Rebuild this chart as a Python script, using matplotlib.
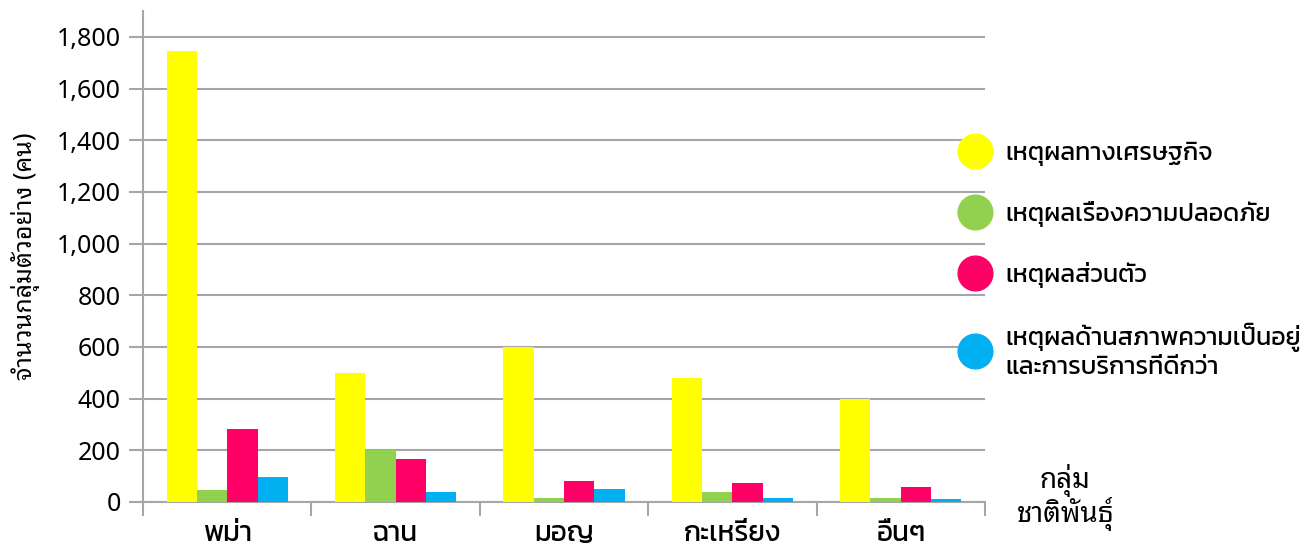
import numpy as np
import matplotlib
matplotlib.use("Agg")
import matplotlib.pyplot as plt
from matplotlib.lines import Line2D

# ── data ─────────────────────────────────────────────────────────────────────
groups = ["พม่า", "ฉาน", "มอญ", "กะเหรี่ยง", "อื่นๆ"]
economic = [1745, 500, 598, 478, 400]
safety = [45, 203, 17, 37, 17]
personal = [283, 165, 80, 72, 58]
living = [95, 38, 52, 17, 10]

series_names = [
    "เหตุผลทางเศรษฐกิจ",
    "เหตุผลเรื่องความปลอดภัย",
    "เหตุผลส่วนตัว",
    "เหตุผลด้านสภาพความเป็นอยู่\nและการบริการที่ดีกว่า",
]
colors = ["#FFFF00", "#92D050", "#FF0066", "#00B0F0"]
yticks = [0, 200, 400, 600, 800, 1000, 1200, 1400, 1600, 1800]

THAI_LOOP = ["Noto Sans Thai Looped", "Noto Sans", "DejaVu Sans"]
THAI_MODERN = ["Kanit", "Noto Sans", "DejaVu Sans"]
NUM = ["Noto Sans", "DejaVu Sans"]

fig = plt.figure(figsize=(13.11, 5.5), dpi=100)
ax = fig.add_axes([0.1091, 0.0873, 0.6422, 0.8927])

x = np.arange(len(groups))
w = 0.18
for i, vals in enumerate([economic, safety, personal, living]):
    ax.bar(x + (i - 1.5) * w, vals, width=w, color=colors[i], zorder=3)

ax.set_xlim(-0.5, len(groups) - 0.5)
ax.set_ylim(0, 1900)
ax.set_yticks(yticks)
ax.set_yticklabels([f"{v:,}" for v in yticks], family=NUM, fontsize=18)
ax.yaxis.grid(True, color="#A6A6A6", linewidth=1.5, zorder=0)

# category boundaries as major ticks, names as minor ticks
ax.set_xticks(np.arange(len(groups) + 1) - 0.5)
ax.set_xticklabels([])
ax.set_xticks(x, minor=True)
ax.set_xticklabels(groups, minor=True, family=THAI_MODERN, fontsize=20)
ax.tick_params(axis="x", which="minor", length=0, pad=14)
ax.tick_params(axis="x", which="major", length=10, width=1.5, color="#A6A6A6")
ax.tick_params(axis="y", length=10, width=1.5, color="#A6A6A6", pad=6)

for s in ["top", "right"]:
    ax.spines[s].set_visible(False)
for s in ["left", "bottom"]:
    ax.spines[s].set_color("#A6A6A6")
    ax.spines[s].set_linewidth(1.5)

ax.set_ylabel("จำนวนกลุ่มตัวอย่าง (คน)", family=THAI_LOOP, fontsize=18,
              fontweight="medium", labelpad=12)

handles = [Line2D([], [], marker="o", linestyle="", markersize=25,
                  markerfacecolor=c, markeredgecolor=c) for c in colors]
leg = fig.legend(handles, series_names, loc="upper left", bbox_to_anchor=(0.7304, 0.742),
                 frameon=False, prop={"family": THAI_MODERN, "size": 18},
                 borderpad=0, borderaxespad=0,
                 labelspacing=1.4, handletextpad=0.5, handlelength=1.4)
leg.get_texts()[3].set_linespacing(1.25)

fig.text(0.8125, 0.095, "กลุ่ม\nชาติพันธุ์", family=THAI_LOOP, fontsize=20,
         fontweight="medium", ha="center", va="center", linespacing=1.0)

fig.savefig("out.png", dpi=100)
